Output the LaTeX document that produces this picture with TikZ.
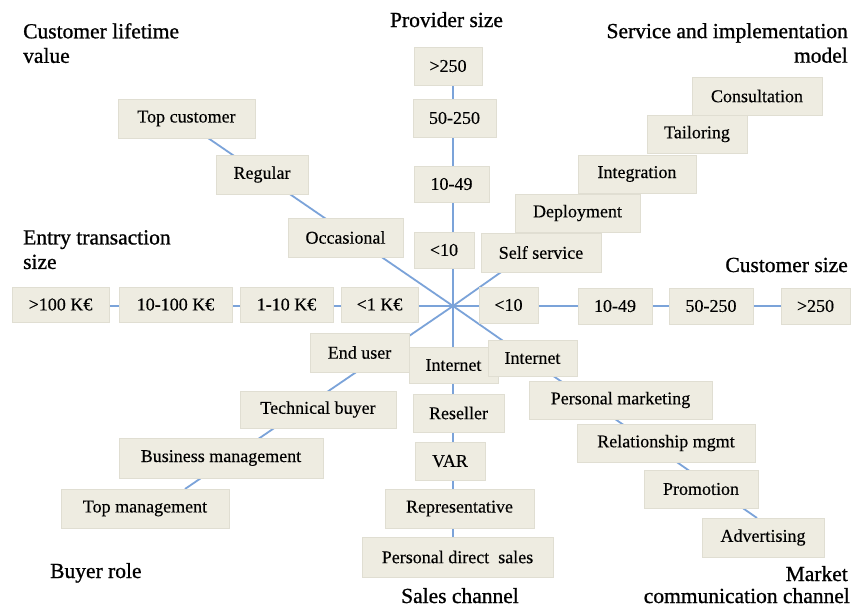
\documentclass[tikz,border=0pt]{standalone}
\usepackage{fontspec}
\setmainfont{Liberation Serif}
\newfontfamily\ttlfont{Liberation Serif}[FakeBold=0.9]
\newfontfamily\boxfont{Liberation Serif}[FakeBold=0.3]
\definecolor{boxfill}{HTML}{EEECE1}
\definecolor{boxedge}{HTML}{E0DED2}
\definecolor{spoke}{HTML}{7BA3D9}
\begin{document}
\begin{tikzpicture}[x=1pt,y=-1pt,
  box/.style={rectangle, fill=boxfill, draw=boxedge, line width=0.6pt, inner sep=0pt,
    font=\boxfont\fontsize{18}{20}\selectfont, text=black},
  ttl/.style={inner sep=0pt, font=\ttlfont\fontsize{21.5}{24.5}\selectfont, text=black},
  spokeline/.style={draw=spoke, line width=1.8pt}]
\useasboundingbox (0,0) rectangle (855,608);
\fill[white] (0,0) rectangle (855,608);

% hub and spoke ends
\coordinate (hub) at (453,306);
\coordinate (endN) at (453,80);
\coordinate (endS) at (453,545);
\coordinate (endW) at (60,306);
\coordinate (endE) at (815,306);
\coordinate (endNW) at (208,138);
\coordinate (endNE) at (558,232);
\coordinate (endSW) at (185,489);
\coordinate (endSE) at (757,518);

\draw[spokeline] (hub) -- (endN);
\draw[spokeline] (hub) -- (endS);
\draw[spokeline] (hub) -- (endW);
\draw[spokeline] (hub) -- (endE);
\draw[spokeline] (hub) -- (endNW);
\draw[spokeline] (hub) -- (endNE);
\draw[spokeline] (hub) -- (endSW);
\draw[spokeline] (hub) -- (endSE);

% Provider size
\node[box, minimum width=68, minimum height=38] (pv1) at (448,66) {>250};
\node[box, minimum width=83, minimum height=38] (pv2) at (454.5,118) {50-250};
\node[box, minimum width=75, minimum height=36] (pv3) at (451.5,184) {10-49};
\node[box, minimum width=60, minimum height=36] (pv4) at (444,250) {<10};

% Customer size
\node[box, minimum width=59, minimum height=36] (cs1) at (508.5,305) {<10};
\node[box, minimum width=74, minimum height=36] (cs2) at (615,306) {10-49};
\node[box, minimum width=84, minimum height=36] (cs3) at (711,306) {50-250};
\node[box, minimum width=69, minimum height=36] (cs4) at (815.5,306) {>250};

% Entry transaction size
\node[box, minimum width=97, minimum height=35] (et1) at (60.5,304.5) {>100 K€};
\node[box, minimum width=113, minimum height=35] (et2) at (175.5,304.5) {10-100 K€};
\node[box, minimum width=93, minimum height=35] (et3) at (286.5,304.5) {1-10 K€};
\node[box, minimum width=77, minimum height=35] (et4) at (379.5,304.5) {<1 K€};

% Customer lifetime value
\node[box, minimum width=137, minimum height=39] (cl1) at (186.5,118.5) {Top customer};
\node[box, minimum width=92, minimum height=39] (cl2) at (262,174.5) {Regular};
\node[box, minimum width=115, minimum height=39] (cl3) at (345.5,237.5) {Occasional};

% Service and implementation model
\node[box, minimum width=130, minimum height=38] (sv5) at (757,96) {Consultation};
\node[box, minimum width=100, minimum height=38] (sv4) at (697,134) {Tailoring};
\node[box, minimum width=118, minimum height=38] (sv3) at (637,174) {Integration};
\node[box, minimum width=125, minimum height=38] (sv2) at (577.5,213) {Deployment};
\node[box, minimum width=120, minimum height=39] (sv1) at (541,252.5) {Self service};

% Buyer role
\node[box, minimum width=99, minimum height=39] (br1) at (359.5,352.5) {End user};
\node[box, minimum width=156, minimum height=37] (br2) at (318,409.5) {Technical buyer};
\node[box, minimum width=204, minimum height=40] (br3) at (221,458) {Business management};
\node[box, minimum width=168, minimum height=39] (br4) at (145,508.5) {Top management};

% Sales channel
\node[box, minimum width=89, minimum height=36] (sc1) at (453.5,365) {Internet};
\node[box, minimum width=91, minimum height=38] (sc2) at (458.5,413) {Reseller};
\node[box, minimum width=70, minimum height=38] (sc3) at (450,461) {VAR};
\node[box, minimum width=149, minimum height=39] (sc4) at (459.5,508.5) {Representative};
\node[box, minimum width=191, minimum height=40] (sc5) at (457.5,557) {Personal direct\ \ sales};

% Market communication channel
\node[box, minimum width=89, minimum height=36] (mc1) at (532.5,358) {Internet};
\node[box, minimum width=183, minimum height=38] (mc2) at (620.5,400) {Personal marketing};
\node[box, minimum width=178, minimum height=38] (mc3) at (666,443) {Relationship mgmt};
\node[box, minimum width=114, minimum height=38] (mc4) at (701,489) {Promotion};
\node[box, minimum width=122, minimum height=39] (mc5) at (763,537.5) {Advertising};

% Titles
\node[ttl, anchor=north west, align=left] (tCL) at (23,23) {Customer lifetime\\value};
\node[ttl, anchor=base] (tPS) at (446.5,27) {Provider size};
\node[ttl, anchor=north east, align=right] (tSI) at (848,23) {Service and implementation\hspace{6pt}\\model};
\node[ttl, anchor=north west, align=left] (tET) at (23,230) {Entry transaction\\size};
\node[ttl, anchor=base east] (tCS) at (848,272) {Customer size};
\node[ttl, anchor=base west] (tBR) at (50,578) {Buyer role};
\node[ttl, anchor=base] (tSC) at (460,603) {Sales channel};
\node[ttl, anchor=base east] (tMC1) at (848,581) {Market};
\node[ttl, anchor=base east] (tMC2) at (850,603) {communication channel};
\end{tikzpicture}
\end{document}
